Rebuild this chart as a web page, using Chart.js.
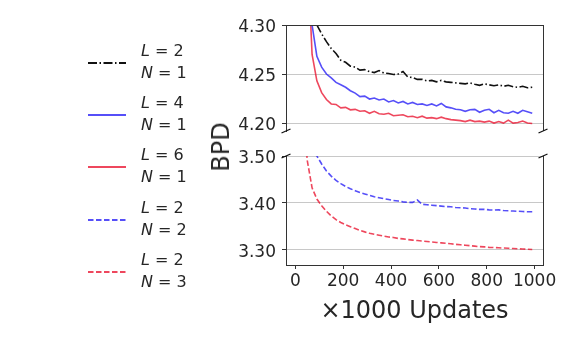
<!DOCTYPE html>
<html>
<head>
<meta charset="utf-8">
<script src="https://cdn.jsdelivr.net/npm/chart.js"></script>
<style>
  body { margin: 0; background: #fff; font-family: "DejaVu Sans", sans-serif; color: #262626; }
  #wrap { position: relative; width: 574px; height: 342px; overflow: hidden; }
  canvas { position: absolute; left: 0; }
  #topChart { top: 0; }
  #bottomChart { top: 140px; }
  .leg { position: absolute; left: 0; font-size: 16px; line-height: 22px; }
  .leg svg { position: absolute; left: 86px; }
  .leg .txt { position: absolute; left: 141px; white-space: nowrap; }
  #ylab { position: absolute; left: 221px; top: 147px; font-size: 24px; transform: translate(-50%, -50%) rotate(-90deg); white-space: nowrap; }
</style>
</head>
<body>
<div id="wrap">
  <canvas id="topChart" width="574" height="140"></canvas>
  <canvas id="bottomChart" width="574" height="202"></canvas>
  <div id="ylab">BPD</div>
  <div id="legend"></div>
</div>
<script>
// x positions (thousands of updates)
const updates = [10, 30, 50, 70, 90, 110, 130, 150, 170, 190, 210, 230, 250, 270, 290, 310, 330, 350, 370, 390,
  410, 430, 450, 470, 490, 510, 530, 550, 570, 590, 610, 630, 650, 670, 690, 710, 730, 750, 770, 790,
  810, 830, 850, 870, 890, 910, 930, 950, 970, 990];

const bpdL2N1 = [4.60, 4.45, 4.37, 4.325, 4.300, 4.291, 4.283, 4.276, 4.271, 4.264, 4.262, 4.258, 4.257, 4.254, 4.2545, 4.2525, 4.2515, 4.2535, 4.251, 4.2505,
  4.2495, 4.2500, 4.2525, 4.247, 4.2465, 4.2445, 4.2445, 4.2430, 4.2435, 4.2420, 4.2435, 4.2420, 4.2415, 4.2410, 4.2405, 4.2400, 4.2410, 4.2395, 4.2385, 4.2400,
  4.2390, 4.2380, 4.2390, 4.2375, 4.2385, 4.2370, 4.2365, 4.2375, 4.2360, 4.2365];

const bpdL4N1 = [4.80, 4.55, 4.40, 4.300, 4.268, 4.257, 4.250, 4.246, 4.2415, 4.239, 4.2365, 4.233, 4.2305, 4.227, 4.2275, 4.2245, 4.2255, 4.2235, 4.2245, 4.2215,
  4.2230, 4.2205, 4.2220, 4.2195, 4.2210, 4.2190, 4.2195, 4.2180, 4.2195, 4.2175, 4.2200, 4.2165, 4.2155, 4.2140, 4.2135, 4.2120, 4.2135, 4.2140, 4.2110, 4.2130,
  4.2140, 4.2105, 4.2130, 4.2105, 4.2100, 4.2120, 4.2100, 4.2130, 4.2115, 4.2100];

const bpdL6N1 = [5.00, 4.65, 4.38, 4.270, 4.243, 4.231, 4.224, 4.2195, 4.2190, 4.2155, 4.2160, 4.2135, 4.2140, 4.2120, 4.2125, 4.2100, 4.2120, 4.2095, 4.2090, 4.2100,
  4.2075, 4.2080, 4.2085, 4.2065, 4.2070, 4.2055, 4.2070, 4.2050, 4.2055, 4.2045, 4.2060, 4.2045, 4.2035, 4.2030, 4.2025, 4.2015, 4.2030, 4.2015, 4.2020, 4.2010,
  4.2020, 4.2000, 4.2015, 4.2000, 4.2030, 4.2000, 4.2005, 4.2020, 4.2000, 4.1995];

const bpdL2N2 = [4.00, 3.75, 3.62, 3.55, 3.50, 3.483, 3.468, 3.457, 3.448, 3.441, 3.435, 3.430, 3.426, 3.422, 3.419, 3.416, 3.413, 3.411, 3.409, 3.407,
  3.405, 3.404, 3.402, 3.401, 3.401, 3.406, 3.397, 3.396, 3.395, 3.394, 3.393, 3.392, 3.3915, 3.390, 3.3895, 3.389, 3.3875, 3.387, 3.386, 3.386,
  3.385, 3.3845, 3.385, 3.3835, 3.383, 3.3825, 3.382, 3.3815, 3.381, 3.381];

const bpdL2N3 = [3.90, 3.62, 3.49, 3.432, 3.408, 3.394, 3.382, 3.372, 3.364, 3.358, 3.353, 3.349, 3.345, 3.341, 3.338, 3.335, 3.333, 3.331, 3.329, 3.327,
  3.326, 3.324, 3.323, 3.3215, 3.3205, 3.3195, 3.3185, 3.3175, 3.3165, 3.3155, 3.3145, 3.3135, 3.3125, 3.3115, 3.3105, 3.3095, 3.3085, 3.3075, 3.3065, 3.306,
  3.305, 3.3045, 3.304, 3.3035, 3.303, 3.3025, 3.302, 3.3015, 3.301, 3.3005];

const legendL = ["2", "4", "6", "2", "2"];
const legendN = ["1", "1", "1", "2", "3"];

const topTicks = [4.20, 4.25, 4.30];
const bottomTicks = [3.30, 3.40, 3.50];
const xTicks = [0, 200, 400, 600, 800, 1000];

const BLACK = "#111111";
const BLUE = "rgba(30, 20, 245, 0.75)";
const RED = "rgba(232, 0, 30, 0.72)";
const DASHDOT = [9, 2.5, 1.5, 2.5];
const DASHED = [5.5, 2.5];

const series = [
  { values: bpdL2N1, color: BLACK, dash: DASHDOT, panel: "top" },
  { values: bpdL4N1, color: BLUE, dash: [], panel: "top" },
  { values: bpdL6N1, color: RED, dash: [], panel: "top" },
  { values: bpdL2N2, color: BLUE, dash: DASHED, panel: "bottom" },
  { values: bpdL2N3, color: RED, dash: DASHED, panel: "bottom" }
];

Chart.defaults.font.family = "'DejaVu Sans', sans-serif";
Chart.defaults.color = "#262626";

const toDataset = s => ({
  data: updates.map((x, i) => ({ x, y: s.values[i] })),
  borderColor: s.color,
  borderWidth: 1.6,
  borderDash: s.dash,
  pointRadius: 0,
  tension: 0,
  fill: false
});

// frame lines + broken-axis slashes
const frame = (isTop) => ({
  id: "frame",
  afterDraw(chart) {
    const { ctx, chartArea: a } = chart;
    ctx.save();
    ctx.strokeStyle = "#333";
    ctx.lineWidth = 1;
    ctx.beginPath();
    ctx.moveTo(a.right + 0.5, a.top);
    ctx.lineTo(a.right + 0.5, a.bottom);
    if (isTop) {
      ctx.moveTo(a.left, a.top + 0.5);
      ctx.lineTo(a.right + 0.5, a.top + 0.5);
    }
    ctx.stroke();
    ctx.strokeStyle = "#111";
    ctx.lineWidth = 1.3;
    const y = isTop ? a.bottom : a.top;
    [a.left, a.right].forEach(x => {
      ctx.beginPath();
      ctx.moveTo(x - 4.5, y + 2);
      ctx.lineTo(x + 4.5, y - 2);
      ctx.stroke();
    });
    ctx.restore();
  }
});

const yAxis = (min, max, ticks) => ({
  type: "linear",
  min, max,
  afterFit: s => { s.width = 286; s.paddingTop = 0; s.paddingBottom = 0; },
  afterBuildTicks: s => { s.ticks = ticks.map(v => ({ value: v })); },
  ticks: { font: { size: 17 }, padding: 6, labelOffset: 3, callback: v => Number(v).toFixed(2) },
  grid: { color: "#c8c8c8", lineWidth: 1, tickLength: 4, tickColor: "#333" },
  border: { display: true, color: "#333", width: 1 }
});

new Chart(document.getElementById("topChart"), {
  type: "line",
  data: { datasets: series.filter(s => s.panel === "top").map(toDataset) },
  options: {
    responsive: false,
    animation: false,
    devicePixelRatio: 1,
    layout: { padding: { left: 0, right: 31, top: 25, bottom: 9 } },
    plugins: { legend: { display: false }, tooltip: { enabled: false } },
    scales: {
      x: { type: "linear", min: -39, max: 1035, display: false },
      y: yAxis(4.1919, 4.30, topTicks)
    }
  },
  plugins: [frame(true)]
});

new Chart(document.getElementById("bottomChart"), {
  type: "line",
  data: { datasets: series.filter(s => s.panel === "bottom").map(toDataset) },
  options: {
    responsive: false,
    animation: false,
    devicePixelRatio: 1,
    layout: { padding: { left: 0, right: 31, top: 16, bottom: 0 } },
    plugins: { legend: { display: false }, tooltip: { enabled: false } },
    scales: {
      x: {
        type: "linear",
        min: -39, max: 1035,
        afterFit: s => { s.height = 77; s.paddingLeft = 0; s.paddingRight = 0; },
        afterBuildTicks: s => { s.ticks = xTicks.map(v => ({ value: v })); },
        ticks: { font: { size: 17 }, padding: 2, maxRotation: 0, autoSkip: false, callback: v => String(v) },
        grid: { drawOnChartArea: false, tickLength: 4, tickColor: "#333" },
        border: { display: true, color: "#333", width: 1 },
        title: { display: true, text: "×1000 Updates", font: { size: 24 }, padding: { top: 0, bottom: 16 } }
      },
      y: yAxis(3.2673, 3.50, bottomTicks)
    }
  },
  plugins: [frame(false)]
});

// legend
const legend = document.getElementById("legend");
series.forEach((s, i) => {
  const top = 40 + i * 52.2;
  const dash = s.dash.length ? `stroke-dasharray="${s.dash.join(" ")}"` : "";
  legend.innerHTML += `
    <div class="leg" style="top:${top}px">
      <svg width="42" height="10" style="top:${18}px"><line x1="2" y1="5" x2="40" y2="5" stroke="${s.color}" stroke-width="1.8" ${dash}/></svg>
      <div class="txt" style="top:0">
        <div><i>L</i> = ${legendL[i]}</div>
        <div><i>N</i> = ${legendN[i]}</div>
      </div>
    </div>`;
});
</script>
</body>
</html>
